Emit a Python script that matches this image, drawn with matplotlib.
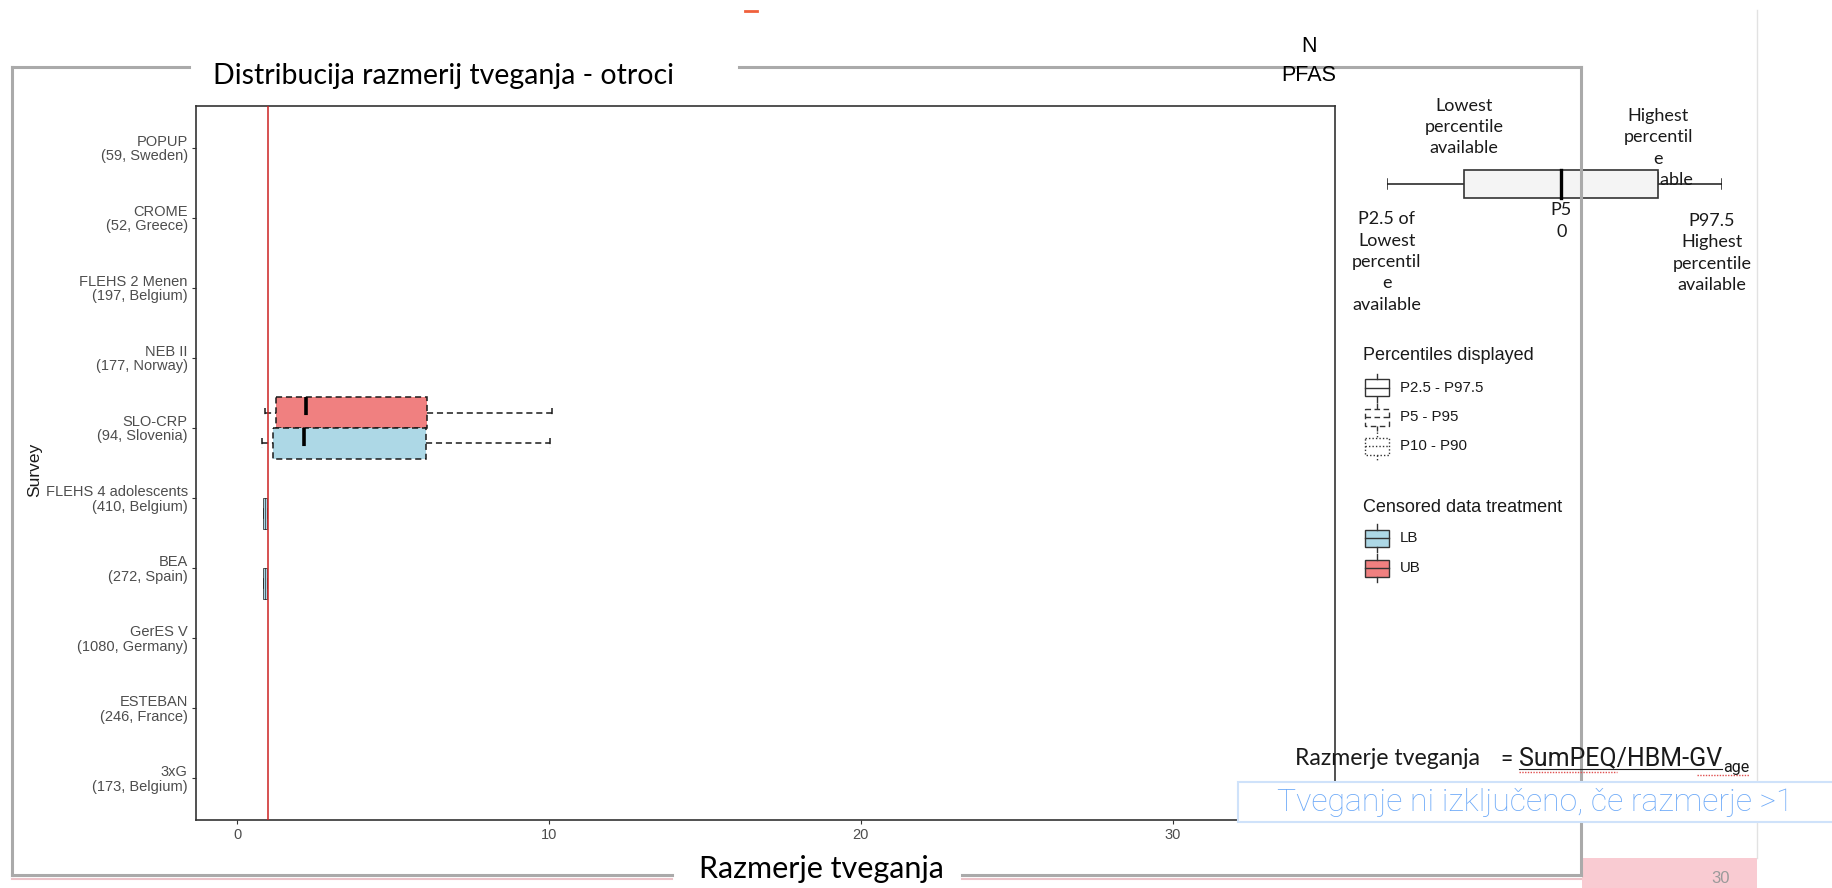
"""Porazdelitev razmerij tveganja (PFAS, otroci) po raziskavah, s shemo in legendo percentilov."""

import matplotlib

matplotlib.use("Agg")
import matplotlib.pyplot as plt
from matplotlib.patches import Rectangle
from matplotlib.transforms import blended_transform_factory

W, H = 1833, 888

# Raziskave od zgoraj navzdol in (N, država) pod imenom.
SURVEYS = [
    "POPUP", "CROME", "FLEHS 2 Menen", "NEB II", "SLO-CRP",
    "FLEHS 4 adolescents", "BEA", "GerES V", "ESTEBAN", "3xG",
]
SURVEY_INFO = [
    "59, Sweden", "52, Greece", "197, Belgium", "177, Norway", "94, Slovenia",
    "410, Belgium", "272, Spain", "1080, Germany", "246, France", "173, Belgium",
]

# Škatle z razmerji tveganja (spodnji rep, P25, mediana, P75, zgornji rep).
BOX_SURVEY = ["SLO-CRP", "SLO-CRP", "FLEHS 4 adolescents", "BEA"]
BOX_TREATMENT = ["UB", "LB", "LB", "LB"]
BOX_RANGE = ["P5 - P95", "P5 - P95", "P2.5 - P97.5", "P2.5 - P97.5"]
BOX_LOW = [0.90, 0.80, 0.82, 0.82]
BOX_Q1 = [1.25, 1.15, 0.84, 0.84]
BOX_MED = [2.20, 2.15, 0.90, 0.90]
BOX_Q3 = [6.09, 6.06, 0.95, 0.95]
BOX_HIGH = [10.10, 10.03, 0.97, 0.97]

RISK_THRESHOLD = 1
X_TICKS = [0, 10, 20, 30]

# Shematska škatla v legendi: P2.5, spodnji percentil, P50, zgornji percentil, P97.5.
SCHEMATIC_STATS = [0, 23, 52, 81, 100]

RANGE_LABELS = ["P2.5 - P97.5", "P5 - P95", "P10 - P90"]
TREATMENT_LABELS = ["LB", "UB"]

TREATMENT_COLORS = {"LB": "#add8e6", "UB": "#f08080"}
TREATMENT_OFFSET = {"UB": -0.22, "LB": 0.22}
RANGE_STYLES = {
    "P2.5 - P97.5": "solid",
    "P5 - P95": (0, (4, 2.5)),
    "P10 - P90": (0, (1, 1.5)),
}

SLIDE_FONT = ["Lato", "DejaVu Sans"]
PLOT_FONT = ["Liberation Sans", "DejaVu Sans"]
ROBOTO = ["Roboto", "DejaVu Sans"]
FRAME = "#aaaaaa"
INK = "#1a1a1a"


def px_axes(fig, x0, y0, x1, y1):
    """Osi, podane v slikovnih točkah (od zgoraj levo)."""
    return fig.add_axes([x0 / W, 1 - y1 / H, (x1 - x0) / W, (y1 - y0) / H])


def draw_main_plot(fig):
    ax = px_axes(fig, 196, 106, 1335, 820)
    ax.set_zorder(1)
    positions = {name: i + 1 for i, name in enumerate(SURVEYS)}

    ax.set_xlim(-1.32, 35.2)
    ax.set_ylim(len(SURVEYS) + 0.6, 0.4)
    ax.set_xticks(X_TICKS)
    ax.set_yticks(
        list(positions.values()),
        labels=[f"{s}\n({info})" for s, info in zip(SURVEYS, SURVEY_INFO)],
    )
    for label in ax.get_yticklabels() + ax.get_xticklabels():
        label.set_family(PLOT_FONT)
        label.set_linespacing(1.0)
    ax.tick_params(length=3, width=0.8, color="#333333", labelcolor="#4d4d4d",
                   labelsize=10.5, pad=3)
    for spine in ax.spines.values():
        spine.set_color("#333333")
        spine.set_linewidth(1.2)
    ax.set_ylabel("Survey", fontsize=12.5, color=INK, family=PLOT_FONT)
    ax.yaxis.set_label_coords(-0.135, 0.49)

    ax.axvline(RISK_THRESHOLD, color="#cc2222", linewidth=1.1, zorder=4)

    height = 0.44
    for survey, treat, rng, lo, q1, med, q3, hi in zip(
        BOX_SURVEY, BOX_TREATMENT, BOX_RANGE, BOX_LOW, BOX_Q1, BOX_MED, BOX_Q3, BOX_HIGH
    ):
        yc = positions[survey] + TREATMENT_OFFSET[treat]
        ls = RANGE_STYLES[rng]
        # zelo ozke škatle rišemo s tanjšim robom, da barva ostane vidna
        wide = q3 - q1 > 1
        edge_lw = 1.1 if wide else 0.5
        ax.add_patch(Rectangle((q1, yc - height / 2), q3 - q1, height,
                               facecolor=TREATMENT_COLORS[treat], edgecolor=INK,
                               linewidth=edge_lw, linestyle=ls, zorder=3))
        ax.plot([lo, q1], [yc, yc], color=INK, lw=edge_lw, ls=ls, zorder=3)
        ax.plot([q3, hi], [yc, yc], color=INK, lw=edge_lw, ls=ls, zorder=3)
        for end in (lo, hi):
            ax.plot([end, end], [yc - 0.07, yc + 0.07], color=INK, lw=edge_lw, ls=ls, zorder=3)
        ax.plot([med, med], [yc - height / 2, yc + height / 2], color="black",
                lw=2.6 if wide else 0.4, ls=(0, (5, 4)) if wide else "solid", zorder=3)


def draw_schematic(fig, deco):
    sch = px_axes(fig, 1387, 158, 1722, 210)
    sch.set_zorder(2)
    sch.set_xlim(0, 100)
    sch.set_ylim(1, -1)
    sch.axis("off")
    lo, q1, med, q3, hi = SCHEMATIC_STATS

    sch.plot([lo, hi], [0, 0], color=INK, lw=1.1, zorder=3)
    for end in (lo, hi):
        sch.plot([end, end], [-0.2, 0.2], color=INK, lw=1.1, zorder=3)
    sch.add_patch(Rectangle((q1, -0.52), q3 - q1, 1.04, facecolor="#f4f4f4",
                            edgecolor="#333333", lw=1.2, zorder=4))
    sch.plot([med, med], [-0.52, 0.52], color="black", lw=2.4, zorder=5)

    notes = [
        ("Lowest\npercentile\navailable", q1, 127),
        ("Highest\npercentil\ne\navailable", q3, 148),
        ("P2.5 of\nLowest\npercentil\ne\navailable", lo, 262),
        ("P5\n0", med, 221),
        ("P97.5\nHighest\npercentile\navailable", hi - 3, 253),
    ]
    trans = blended_transform_factory(sch.transData, deco.transData)
    for text, x, y in notes:
        sch.text(x, y, text, transform=trans, ha="center", va="center",
                 fontsize=13, family=SLIDE_FONT, color=INK, linespacing=1.42,
                 clip_on=False, zorder=1)


def draw_legend_key(deco, cy, ls, face):
    cx = 1377
    deco.add_patch(Rectangle((cx - 12, cy - 8.5), 24, 17, facecolor=face,
                             edgecolor="#333333", lw=1.0, ls=ls))
    deco.plot([cx - 12, cx + 12], [cy, cy], color="#333333", lw=1.0, ls=ls)
    deco.plot([cx, cx], [cy - 14, cy - 8.5], color="#333333", lw=1.0, ls=ls)
    deco.plot([cx, cx], [cy + 8.5, cy + 14], color="#333333", lw=1.0, ls=ls)


def draw_legends(deco):
    deco.text(1363, 355, "Percentiles displayed", fontsize=13, family=PLOT_FONT,
              color=INK, va="center")
    for label, cy in zip(RANGE_LABELS, [388, 417, 446]):
        draw_legend_key(deco, cy, RANGE_STYLES[label], "white")
        deco.text(1400, cy, label, fontsize=10.8, family=PLOT_FONT, color=INK, va="center")

    deco.text(1363, 507, "Censored data treatment", fontsize=13, family=PLOT_FONT,
              color=INK, va="center")
    for label, cy in zip(TREATMENT_LABELS, [538, 568]):
        draw_legend_key(deco, cy, "solid", TREATMENT_COLORS[label])
        deco.text(1400, cy, label, fontsize=10.8, family=PLOT_FONT, color=INK, va="center")


def draw_slide(fig, deco):
    # siv okvir okrog grafa, z odprtinami za naslov in os x
    frame = [
        ((12, 189), (67, 67)), ((739, 1581), (67, 67)),
        ((12, 12), (67, 875)), ((1581, 1581), (67, 875)),
        ((12, 672), (875, 875)), ((962, 1581), (875, 875)),
    ]
    for xs in ((12, 672), (962, 1581)):
        deco.plot(xs, [879, 879], color="#ecc3c9", lw=1.5)
    for xs, ys in frame:
        deco.plot(xs, ys, color=FRAME, lw=2.2, solid_capstyle="projecting")

    deco.add_patch(Rectangle((1582, 858), 175, 40, facecolor="#f9cbd2", edgecolor="none"))
    deco.plot([1757, 1757], [10, 858], color="#e2e2e2", lw=1.0)
    deco.text(1721, 886, "30", fontsize=12, color="#9a9a9a", ha="center", va="bottom",
              family=PLOT_FONT)
    deco.plot([745, 757], [11, 11], color="#f0603c", lw=2)

    deco.text(444, 76, "Distribucija razmerij tveganja - otroci", fontsize=20.5,
              family=SLIDE_FONT, color="black", ha="center", va="center")
    deco.text(821, 869, "Razmerje tveganja", fontsize=22, family=SLIDE_FONT,
              color="black", ha="center", va="center")
    deco.text(1309, 61, "N\nPFAS", fontsize=15.5, family=PLOT_FONT, color="black",
              ha="center", va="center", linespacing=1.5)

    # formula za razmerje tveganja
    renderer = fig.canvas.get_renderer()
    inv = deco.transData.inverted()

    def right_edge(artist):
        bb = artist.get_window_extent(renderer)
        return inv.transform((bb.x1, bb.y0))[0]

    t1 = deco.text(1295, 765, "Razmerje tveganja", fontsize=16.6, family=SLIDE_FONT,
                   color=INK, va="baseline")
    t2 = deco.text(right_edge(t1) + 20, 765, "=", fontsize=16, family=ROBOTO,
                   color=INK, va="baseline")
    x3 = right_edge(t2) + 7
    t3 = deco.text(x3, 765, "SumPEQ/HBM-GV", fontsize=18, family=ROBOTO,
                   color=INK, va="baseline")
    x4 = right_edge(t3)
    t4 = deco.text(x4 + 1, 772, "age", fontsize=11.5, family=ROBOTO,
                   color=INK, va="baseline")
    x5 = right_edge(t4)
    deco.plot([x3, x4], [769, 769], color=INK, lw=0.8)
    deco.plot([x3, x3 + 0.48 * (x4 - x3)], [772, 772], color="#e05050", lw=1.0, ls=(0, (1, 1)))
    deco.plot([x4 - 25, x5], [775, 775], color="#e05050", lw=1.0, ls=(0, (1, 1)))

    deco.add_patch(Rectangle((1238, 782), 640, 40, facecolor="white",
                             edgecolor="#cfe2fa", lw=1.5, zorder=3))
    deco.text(1277, 802, "Tveganje ni izključeno, če razmerje >1", fontsize=23,
              family=ROBOTO, weight="light", color="#6eaaf8",
              va="center", zorder=4)


def main():
    fig = plt.figure(figsize=(W / 100, H / 100), dpi=100)
    fig.patch.set_facecolor("white")
    deco = fig.add_axes([0, 0, 1, 1], zorder=3)
    deco.set_xlim(0, W)
    deco.set_ylim(H, 0)
    deco.axis("off")

    draw_main_plot(fig)
    draw_schematic(fig, deco)
    draw_legends(deco)
    draw_slide(fig, deco)

    fig.savefig("out.png", dpi=100)
    plt.close(fig)


if __name__ == "__main__":
    main()
